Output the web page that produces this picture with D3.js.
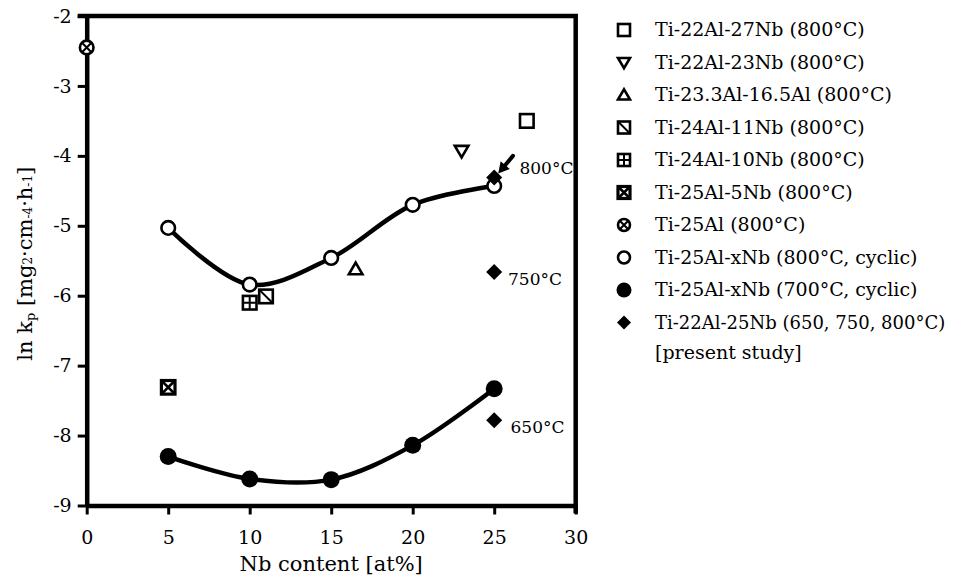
<!DOCTYPE html>
<html>
<head>
<meta charset="utf-8">
<script src="https://cdn.jsdelivr.net/npm/d3@7"></script>
<style>
  body { margin: 0; background: #fff; }
  text { font-family: "DejaVu Serif", "Liberation Serif", serif; fill: #000; }
  .tick line { stroke: #000; stroke-width: 3; }
  .domain { stroke: #000; stroke-width: 4.5; }
</style>
</head>
<body>
<div id="chart"></div>
<script>
// ln kp vs Nb content

var nbCyclic = [5, 10, 15, 20, 25];
var lnKp800Cyclic = [-5.03, -5.84, -5.46, -4.70, -4.43];
var lnKp700Cyclic = [-8.30, -8.62, -8.63, -8.14, -7.33];

// literature alloys (800°C)
var litMarkers = ["square", "triDown", "triUp", "squareDiag", "squareCross", "squareX", "circleX"];
var litNb = [27, 23, 16.5, 11, 10, 5, 0];
var litLnKp = [-3.5, -3.93, -5.62, -6.01, -6.1, -7.31, -2.45];

// present study, Ti-22Al-25Nb
var presentNb = 25;
var presentTemps = ["650°C", "750°C", "800°C"];
var presentLnKp = [-7.78, -5.66, -4.31];
var tempLabelNb = [26.0, 25.85, 26.55];
var tempLabelLnKp = [-7.96, -5.84, -4.26];

var legendMarkers = ["square", "triDown", "triUp", "squareDiag", "squareCross", "squareX", "circleX", "circleOpen", "circleFilled", "diamond"];
var legendNames = [
    "Ti-22Al-27Nb (800°C)",
    "Ti-22Al-23Nb (800°C)",
    "Ti-23.3Al-16.5Al (800°C)",
    "Ti-24Al-11Nb (800°C)",
    "Ti-24Al-10Nb (800°C)",
    "Ti-25Al-5Nb (800°C)",
    "Ti-25Al (800°C)",
    "Ti-25Al-xNb (800°C, cyclic)",
    "Ti-25Al-xNb (700°C, cyclic)",
    "Ti-22Al-25Nb (650, 750, 800°C)"
];

var xTicks = [0, 5, 10, 15, 20, 25, 30];
var yTicks = [-9, -8, -7, -6, -5, -4, -3, -2];

var svgWidth = 958;
var svgHeight = 581;
var margin = { top: 16, left: 86.7 };
var width = 489;
var height = 489.5;

var svg = d3.select("#chart")
    .append("svg")
    .attr("width", svgWidth)
    .attr("height", svgHeight);

var chartGroup = svg.append("g")
    .attr("transform", `translate(${margin.left},${margin.top})`);

var xScale = d3.scaleLinear().domain([0, 30]).range([0, width]);
var yScale = d3.scaleLinear().domain([-9, -2]).range([height, 0]);

// top and right frame lines
chartGroup.append("path")
    .attr("d", `M${xScale(0) - 9},${yScale(-2)}H${xScale(30)}V${yScale(-9) + 8}`)
    .attr("fill", "none")
    .attr("stroke", "#000")
    .attr("stroke-width", 4.5);

var xAxis = d3.axisBottom(xScale).tickValues(xTicks).tickSize(9).tickSizeOuter(0)
    .tickPadding(16).tickFormat(d => String(d));
var yAxis = d3.axisLeft(yScale).tickValues(yTicks).tickSize(9).tickSizeOuter(0)
    .tickPadding(6).tickFormat(d => String(d));

chartGroup.append("g")
    .attr("transform", `translate(0,${height})`)
    .call(xAxis)
    .selectAll("text").style("font-size", "19px");
chartGroup.append("g")
    .call(yAxis)
    .selectAll("text").style("font-size", "19px");

// fitted curves
var line = d3.line()
    .x(d => xScale(d[0]))
    .y(d => yScale(d[1]))
    .curve(d3.curveCatmullRom.alpha(0.5));

[lnKp800Cyclic, lnKp700Cyclic].forEach(function(vals) {
    chartGroup.append("path")
        .datum(nbCyclic.map((n, i) => [n, vals[i]]))
        .attr("d", line)
        .attr("fill", "none")
        .attr("stroke", "#000")
        .attr("stroke-width", 4.5);
});

// marker shapes, s = half size
function drawMarker(g, type, s) {
    var sw = 2.6;
    if (type == "square" || type == "squareDiag" || type == "squareCross" || type == "squareX") {
        g.append("rect").attr("x", -s).attr("y", -s).attr("width", 2 * s).attr("height", 2 * s)
            .attr("fill", "#fff").attr("stroke", "#000").attr("stroke-width", type == "squareX" ? 3.2 : sw);
        var d = "";
        if (type == "squareDiag") d = `M${-s},${-s}L${s},${s}`;
        if (type == "squareCross") d = `M0,${-s}V${s}M${-s},0H${s}`;
        if (type == "squareX") d = `M${-s},${-s}L${s},${s}M${-s},${s}L${s},${-s}`;
        if (d) g.append("path").attr("d", d).attr("stroke", "#000").attr("stroke-width", type == "squareX" ? 2.6 : 2);
    } else if (type == "triDown" || type == "triUp") {
        var k = type == "triDown" ? 1 : -1;
        g.append("path")
            .attr("d", `M${-s},${-k * s * 0.75}L${s},${-k * s * 0.75}L0,${k * s * 0.95}Z`)
            .attr("fill", "#fff").attr("stroke", "#000").attr("stroke-width", sw).attr("stroke-linejoin", "miter");
    } else if (type == "circleX") {
        g.append("circle").attr("r", s).attr("fill", "#fff").attr("stroke", "#000").attr("stroke-width", sw);
        var c = s * 0.62;
        g.append("path").attr("d", `M${-c},${-c}L${c},${c}M${-c},${c}L${c},${-c}`)
            .attr("stroke", "#000").attr("stroke-width", 2);
    } else if (type == "circleOpen") {
        g.append("circle").attr("r", s).attr("fill", "#fff").attr("stroke", "#000").attr("stroke-width", 2.6);
    } else if (type == "circleFilled") {
        g.append("circle").attr("r", s).attr("fill", "#000");
    } else if (type == "diamond") {
        g.append("path").attr("d", `M0,${-s}L${s},0L0,${s}L${-s},0Z`).attr("fill", "#000");
    }
}

// literature points
litNb.forEach(function(n, i) {
    var g = chartGroup.append("g")
        .attr("transform", `translate(${xScale(n)},${yScale(litLnKp[i])})`);
    drawMarker(g, litMarkers[i], 6.8);
});

nbCyclic.forEach(function(n, i) {
    drawMarker(chartGroup.append("g")
        .attr("transform", `translate(${xScale(n)},${yScale(lnKp800Cyclic[i])})`), "circleOpen", 6.8);
    drawMarker(chartGroup.append("g")
        .attr("transform", `translate(${xScale(n)},${yScale(lnKp700Cyclic[i])})`), "circleFilled", 8.5);
});

// present study
presentLnKp.forEach(function(v, i) {
    drawMarker(chartGroup.append("g")
        .attr("transform", `translate(${xScale(presentNb)},${yScale(v)})`), "diamond", 8);
    chartGroup.append("text")
        .attr("x", xScale(tempLabelNb[i]))
        .attr("y", yScale(tempLabelLnKp[i]))
        .style("font-size", "17px")
        .text(presentTemps[i]);
});

// arrow from 800°C label to its point
var ax0 = xScale(26.15), ay0 = yScale(-4.0);
var ax1 = xScale(presentNb) + 4, ay1 = yScale(presentLnKp[2]) - 4;
var ang = Math.atan2(ay1 - ay0, ax1 - ax0);
chartGroup.append("line")
    .attr("x1", ax0).attr("y1", ay0)
    .attr("x2", ax1 - 6 * Math.cos(ang)).attr("y2", ay1 - 6 * Math.sin(ang))
    .attr("stroke", "#000").attr("stroke-width", 4).attr("stroke-linecap", "round");
chartGroup.append("path")
    .attr("d", `M0,0L-11,-6L-11,6Z`)
    .attr("transform", `translate(${ax1},${ay1}) rotate(${ang * 180 / Math.PI})`)
    .attr("fill", "#000");

// axis titles
chartGroup.append("text")
    .attr("x", width / 2)
    .attr("y", height + 65)
    .attr("text-anchor", "middle")
    .style("font-size", "21px")
    .text("Nb content [at%]");

var yTitle = chartGroup.append("text")
    .attr("transform", `translate(${-margin.left + 32},${height / 2 + 3}) rotate(-90)`)
    .attr("text-anchor", "middle")
    .style("font-size", "21px");
yTitle.append("tspan").text("ln k");
yTitle.append("tspan").style("font-size", "13px").attr("dy", 3).text("p");
yTitle.append("tspan").attr("dy", -3).text(" [mg");
yTitle.append("tspan").style("font-size", "12px").text("2");
yTitle.append("tspan").text("·cm");
yTitle.append("tspan").style("font-size", "12px").text("-4");
yTitle.append("tspan").text("·h");
yTitle.append("tspan").style("font-size", "12px").text("-1");
yTitle.append("tspan").text("]");

// legend
var legend = svg.append("g").attr("transform", "translate(624,36)");
legendNames.forEach(function(name, i) {
    var row = legend.append("g").attr("transform", `translate(0,${i * 32.5})`);
    var s = legendMarkers[i] == "circleFilled" ? 7.5 : (legendMarkers[i] == "diamond" ? 7 : 6);
    drawMarker(row.append("g").attr("transform", "translate(0,-6)"), legendMarkers[i], s);
    row.append("text")
        .attr("x", 31)
        .style("font-size", i == legendNames.length - 1 ? "18px" : "19px")
        .text(name);
});
legend.append("text")
    .attr("x", 31)
    .attr("y", 9 * 32.5 + 30)
    .style("font-size", "19px")
    .text("[present study]");
</script>
</body>
</html>
